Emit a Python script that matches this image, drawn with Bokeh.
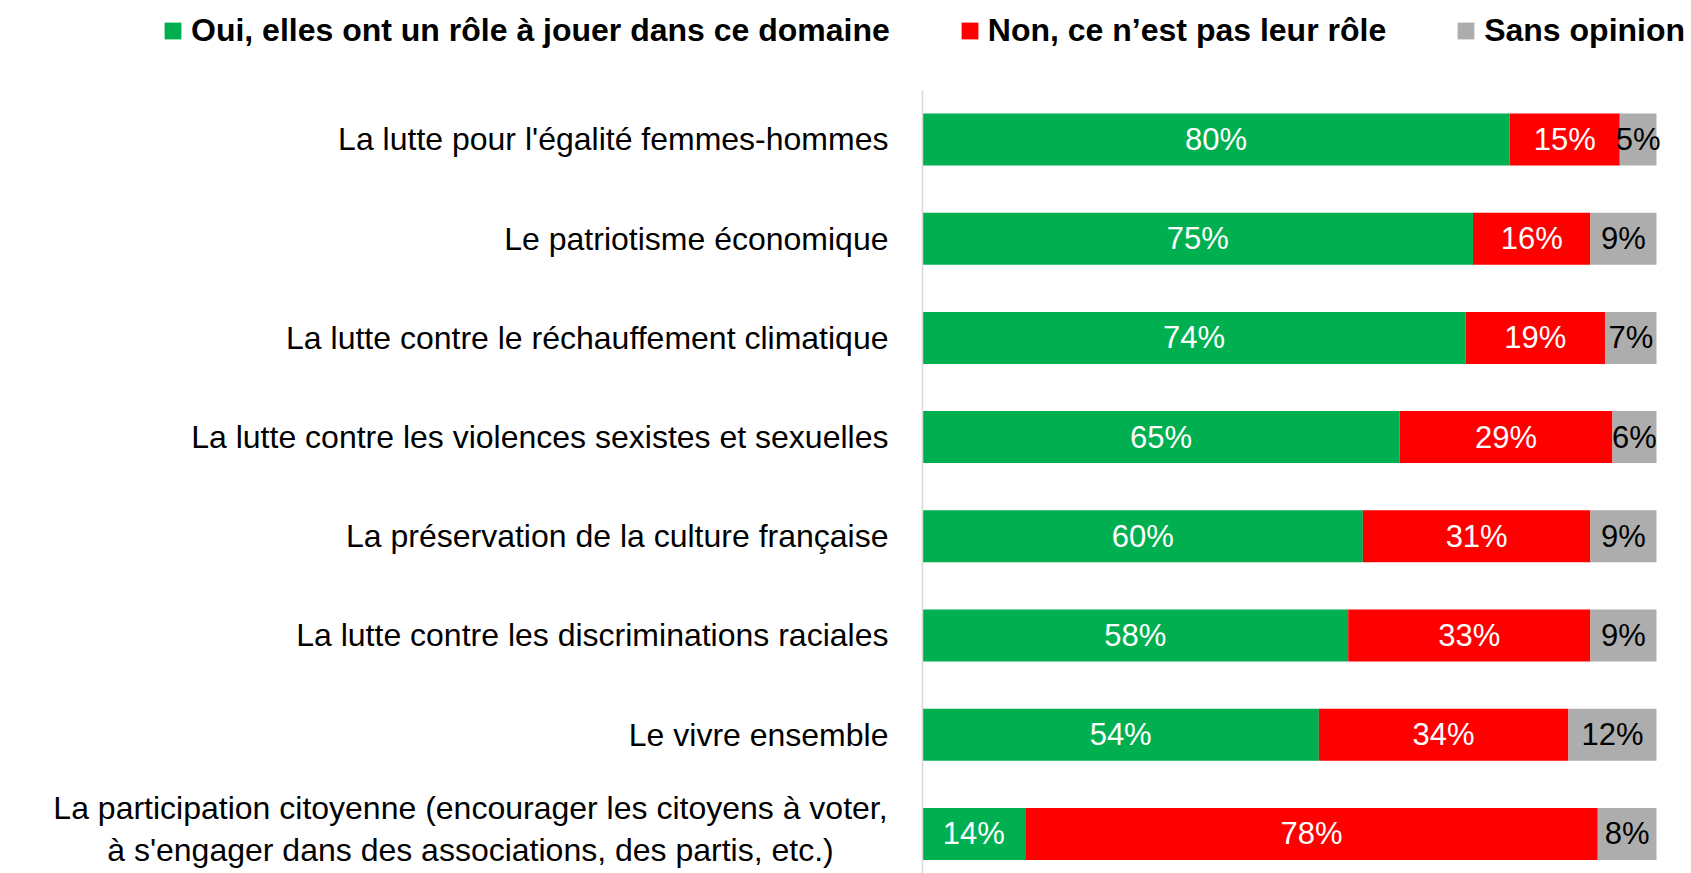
from bokeh.plotting import figure
from bokeh.models import ColumnDataSource, Range1d
from bokeh.core.properties import value
from bokeh.embed import file_html
from bokeh.resources import INLINE

categories = [
    "La lutte pour l'égalité femmes-hommes",
    "Le patriotisme économique",
    "La lutte contre le réchauffement climatique",
    "La lutte contre les violences sexistes et sexuelles",
    "La préservation de la culture française",
    "La lutte contre les discriminations raciales",
    "Le vivre ensemble",
    "La participation citoyenne (encourager les citoyens à voter,\nà s'engager dans des associations, des partis, etc.)",
]
oui = [80, 75, 74, 65, 60, 58, 54, 14]
non = [15, 16, 19, 29, 31, 33, 34, 78]
sans = [5, 9, 7, 6, 9, 9, 12, 8]
series_labels = ["Oui, elles ont un rôle à jouer dans ce domaine",
                 "Non, ce n’est pas leur rôle",
                 "Sans opinion"]
colors = ["#00B050", "#FF0000", "#ADADAD"]
text_colors = ["white", "white", "black"]

W, H = 1691, 873
n = len(categories)
ypos = list(range(n))

p = figure(width=W, height=H, output_backend="svg", toolbar_location=None,
           x_axis_type=None, y_axis_type=None, min_border=0,
           x_range=Range1d(-125.61, 104.77), y_range=Range1d(7.3992, -1.4012))
p.grid.visible = False
p.outline_line_color = None
p.background_fill_color = "white"
p.border_fill_color = "white"

src = ColumnDataSource(dict(y=ypos, oui=oui, non=non, sans=sans))
p.hbar_stack(["oui", "non", "sans"], y="y", height=0.524, color=colors,
             line_color=None, source=src, legend_label=series_labels)

# vertical axis line
p.segment(x0=[0], x1=[0], y0=[-0.5], y1=[n + 0.5], line_color="#D9D9D9", line_width=1.5)

# value labels
lx, ly, lt, lc = [], [], [], []
for i in range(n):
    vals = [oui[i], non[i], sans[i]]
    start = 0
    for k, v in enumerate(vals):
        lx.append(start + v / 2)
        ly.append(ypos[i])
        lt.append(f"{v}%")
        lc.append(text_colors[k])
        start += v
p.text(x=lx, y=ly, text=lt, text_color=lc, text_align="center", text_baseline="middle",
       text_font=value("Liberation Sans"), text_font_size="31px")

# category labels
single_y, single_t = [], []
multi = []
for i, c in enumerate(categories):
    if "\n" in c:
        multi.append((ypos[i], c.split("\n")))
    else:
        single_y.append(ypos[i])
        single_t.append(c)
p.text(x=[0] * len(single_y), y=single_y, text=single_t, x_offset=-34,
       text_align="right", text_baseline="middle", text_color="black",
       text_font=value("Liberation Sans"), text_font_size="32px")
for yv, lines in multi:
    m = len(lines)
    p.text(x=[0] * m, y=[yv] * m, text=lines, x_offset=-452,
           y_offset=[(j - (m - 1) / 2) * 42 - 5 for j in range(m)],
           text_align="center", text_baseline="middle", text_color="black",
           text_font=value("Liberation Sans"), text_font_size="32px")

lg = p.legend[0]
lg.orientation = "horizontal"
lg.location = (162, 824)
lg.padding = 0
lg.margin = 0
lg.spacing = 69
lg.glyph_width = 21
lg.glyph_height = 21
lg.label_standoff = 8
lg.label_text_font = "Liberation Sans"
lg.label_text_font_style = "bold"
lg.label_text_font_size = "32px"
lg.label_text_color = "black"
lg.border_line_color = None
lg.background_fill_alpha = 0

open("out.html", "w").write(file_html(p, INLINE))
